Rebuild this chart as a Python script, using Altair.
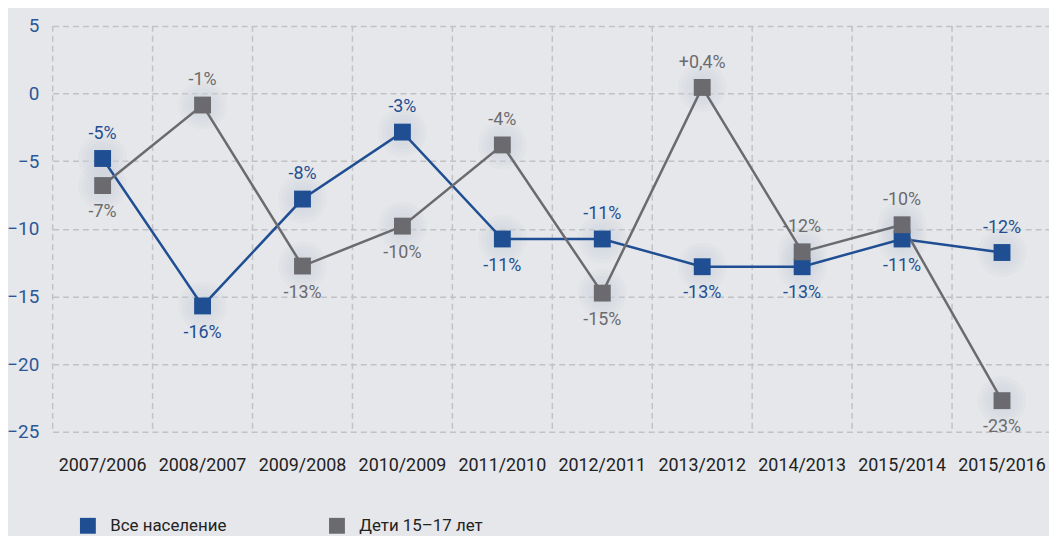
import altair as alt
import pandas as pd

categories = ["2007/2006", "2008/2007", "2009/2008", "2010/2009", "2011/2010",
              "2012/2011", "2013/2012", "2014/2013", "2015/2014", "2015/2016"]
series_names = ["Все население", "Дети 15–17 лет"]
all_pop = [-4.8, -15.7, -7.8, -2.85, -10.75, -10.75, -12.8, -12.8, -10.75, -11.75]
kids = [-6.8, -0.85, -12.75, -9.8, -3.8, -14.75, 0.45, -11.7, -9.7, -22.7]
all_labels = ["-5%", "-16%", "-8%", "-3%", "-11%", "-11%", "-13%", "-13%", "-11%", "-12%"]
kids_labels = ["-7%", "-1%", "-13%", "-10%", "-4%", "-15%", "+0,4%", "-12%", "-10%", "-23%"]
all_pos = ["above", "below", "above", "above", "below", "above", "below", "below", "below", "above"]
kids_pos = ["below", "above", "below", "below", "above", "below", "above", "above", "above", "below"]
y_ticks = [5, 0, -5, -10, -15, -20, -25]

BLUE = "#1f4e93"
GRAY = "#6b6b6f"
BG = "#e6e7ea"
FONT = "Roboto"

rows = []
for i, c in enumerate(categories):
    rows.append({"cat": c, "series": series_names[0], "value": all_pop[i],
                 "label": all_labels[i], "pos": all_pos[i]})
    rows.append({"cat": c, "series": series_names[1], "value": kids[i],
                 "label": kids_labels[i], "pos": kids_pos[i]})
df = pd.DataFrame(rows)
grid_df = pd.DataFrame({"cat": categories})

x_scale = alt.Scale(domain=categories, range=[0, 1007], paddingInner=0, paddingOuter=0)
y_scale = alt.Scale(domain=[-25, 5], nice=False, zero=False)
color_scale = alt.Scale(domain=series_names, range=[BLUE, GRAY])

x_axis = alt.Axis(title=None, labelAngle=0, domain=False, ticks=False,
                  grid=False, labelPadding=25, labelFontSize=18,
                  labelColor="#222222", labelFont=FONT)
y_axis = alt.Axis(title=None, values=y_ticks, domain=False, ticks=False,
                  grid=True, gridDash=[6, 4], gridColor="#c2c2c4",
                  gridWidth=1.5, labelFontSize=19, labelColor="#2b5797",
                  labelPadding=14, labelFont=FONT)
x_enc = alt.X("cat:N", scale=x_scale, sort=categories, axis=x_axis)
y_enc = alt.Y("value:Q", scale=y_scale, axis=y_axis)

vgrid = alt.Chart(grid_df).mark_rule(color="#c2c2c4", strokeWidth=1.5,
                                     strokeDash=[6, 4]).encode(
    x=alt.X("cat:N", scale=x_scale, sort=categories, bandPosition=0, axis=x_axis),
    y=alt.Y(datum=5, scale=y_scale, axis=y_axis),
    y2=alt.datum(-25),
)

base = alt.Chart(df).encode(x=x_enc, y=y_enc)

glows = [
    base.mark_circle(size=s, opacity=0.18, color="#cfd3e0").encode()
    for s in (2400, 1700, 1150, 700, 400)
]

lines = base.mark_line(strokeWidth=2.5).encode(
    color=alt.Color("series:N", scale=color_scale,
                    legend=alt.Legend(title=None, orient="none", legendX=27, legendY=495,
                                      direction="horizontal", symbolType="square",
                                      symbolSize=256, symbolStrokeWidth=0,
                                      symbolOpacity=1, labelFontSize=17,
                                      labelColor="#222222", labelFont=FONT,
                                      labelOffset=14, columnPadding=102, padding=0)),
    detail="series:N",
)
points = base.mark_point(shape="square", filled=True, size=289, opacity=1).encode(
    color=alt.Color("series:N", scale=color_scale, legend=None),
)
text_above = base.mark_text(dy=-25, fontSize=18, font=FONT).encode(
    text="label:N",
    color=alt.Color("series:N", scale=color_scale, legend=None),
).transform_filter(alt.datum.pos == "above")
text_below = base.mark_text(dy=27, fontSize=18, font=FONT).encode(
    text="label:N",
    color=alt.Color("series:N", scale=color_scale, legend=None),
).transform_filter(alt.datum.pos == "below")

chart = alt.layer(vgrid, *glows, lines, points, text_above, text_below).properties(
    width=1004, height=409,
    autosize=alt.AutoSizeParams(type="none"),
    padding={"left": 45, "top": 16, "right": 0, "bottom": 103},
    background=BG,
).configure_view(stroke=None)

chart.save("out.html", embed_options={"renderer": "svg", "actions": False})
